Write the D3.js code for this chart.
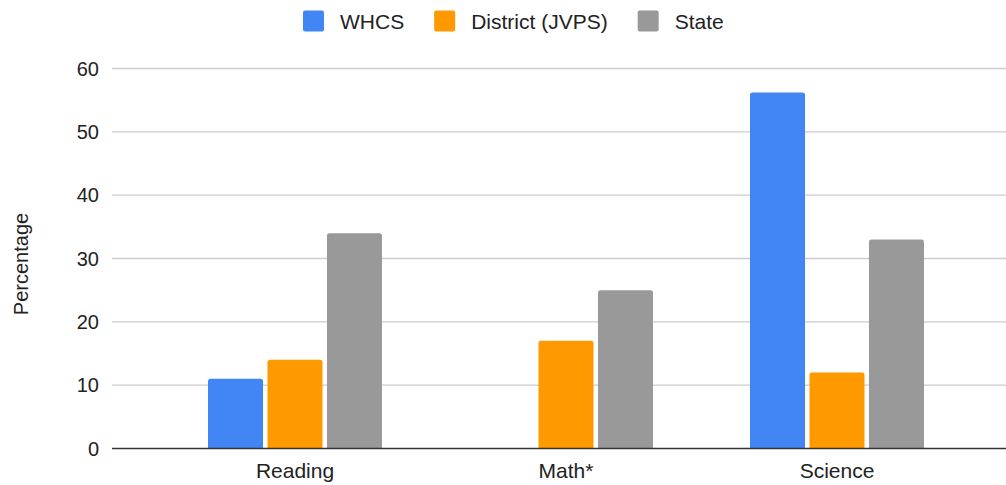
<!DOCTYPE html>
<html>
<head>
<meta charset="utf-8">
<script src="https://cdnjs.cloudflare.com/ajax/libs/d3/7.8.5/d3.min.js"></script>
<style>
  body { margin: 0; background: #fff; }
  svg text { font-family: "Liberation Sans", Arial, sans-serif; fill: #222; }
  .grid line { stroke: #cccccc; stroke-width: 1.3; }
  .tick-label { font-size: 20px; }
  .cat-label, .legend-label { font-size: 21px; }
</style>
</head>
<body>
<svg id="chart" width="1006" height="485"></svg>
<script>
var categories = ["Reading", "Math*", "Science"];
var series = ["WHCS", "District (JVPS)", "State"];
var colors = ["#4285f4", "#ff9900", "#999999"];
var whcs = [11, null, 56.2];
var district = [14, 17, 12];
var state = [34, 25, 33];
var y_ticks = [0, 10, 20, 30, 40, 50, 60];

var values = [whcs, district, state];

var svg = d3.select("#chart");

var plot_left = 112, plot_right = 1006,
	y_top = 68.5, y_bottom = 448.5;

var y = d3.scaleLinear()
		.domain([0, 60])
		.range([y_bottom, y_top]);

var x0 = d3.scaleBand()
		.domain(categories)
		.range([159.5, 972.5])
		.paddingInner(0.358)
		.paddingOuter(0.179);

var x1 = d3.scaleBand()
		.domain(series)
		.range([0, x0.bandwidth()])
		.paddingInner(0.075);

// gridlines
svg.append("g")
		.attr("class", "grid")
	.selectAll("line")
		.data(y_ticks.filter(function(d){ return d > 0; }))
	.enter().append("line")
		.attr("x1", plot_left)
		.attr("x2", plot_right)
		.attr("y1", function(d){ return y(d); })
		.attr("y2", function(d){ return y(d); });

// y tick labels
svg.selectAll(".y-label")
		.data(y_ticks)
	.enter().append("text")
		.attr("class", "tick-label")
		.attr("x", 99)
		.attr("y", function(d){ return y(d); })
		.attr("dy", "0.36em")
		.attr("text-anchor", "end")
		.text(function(d){ return d; });

// y axis title
svg.append("text")
		.attr("class", "tick-label")
		.attr("transform", "translate(28," + 264 + ") rotate(-90)")
		.attr("text-anchor", "middle")
		.text("Percentage");

// rounded-top bar path
function barPath(x, yTop, w, h, r){
	r = Math.min(r, h);
	return "M" + x + "," + (yTop + h) +
		"V" + (yTop + r) +
		"Q" + x + "," + yTop + " " + (x + r) + "," + yTop +
		"H" + (x + w - r) +
		"Q" + (x + w) + "," + yTop + " " + (x + w) + "," + (yTop + r) +
		"V" + (yTop + h) + "Z";
}

var bars = [];
categories.forEach(function(c, i){
	series.forEach(function(s, j){
		if (values[j][i] != null) bars.push({cat: c, ser: s, color: colors[j], val: values[j][i]});
	});
});

svg.append("g").selectAll("path")
		.data(bars)
	.enter().append("path")
		.attr("fill", function(d){ return d.color; })
		.attr("d", function(d){
			var bx = x0(d.cat) + x1(d.ser);
			return barPath(bx, y(d.val), x1.bandwidth(), y(0) - y(d.val), 2.5);
		});

// baseline
svg.append("line")
		.attr("x1", plot_left)
		.attr("x2", plot_right)
		.attr("y1", y(0))
		.attr("y2", y(0))
		.attr("stroke", "#333")
		.attr("stroke-width", 1.3);

// category labels
svg.selectAll(".x-label")
		.data(categories)
	.enter().append("text")
		.attr("class", "cat-label")
		.attr("x", function(d){ return x0(d) + x0.bandwidth() / 2; })
		.attr("y", 478)
		.attr("text-anchor", "middle")
		.text(function(d){ return d; });

// legend
var legend = svg.append("g");
var lx = 303;
series.forEach(function(s, j){
	legend.append("rect")
			.attr("x", lx)
			.attr("y", 10.5)
			.attr("width", 21)
			.attr("height", 21)
			.attr("rx", 2)
			.attr("fill", colors[j]);
	var t = legend.append("text")
			.attr("class", "legend-label")
			.attr("x", lx + 37)
			.attr("y", 21)
			.attr("dy", "0.36em")
			.text(s);
	lx = lx + 37 + t.node().getComputedTextLength() + 30;
});
</script>
</body>
</html>
